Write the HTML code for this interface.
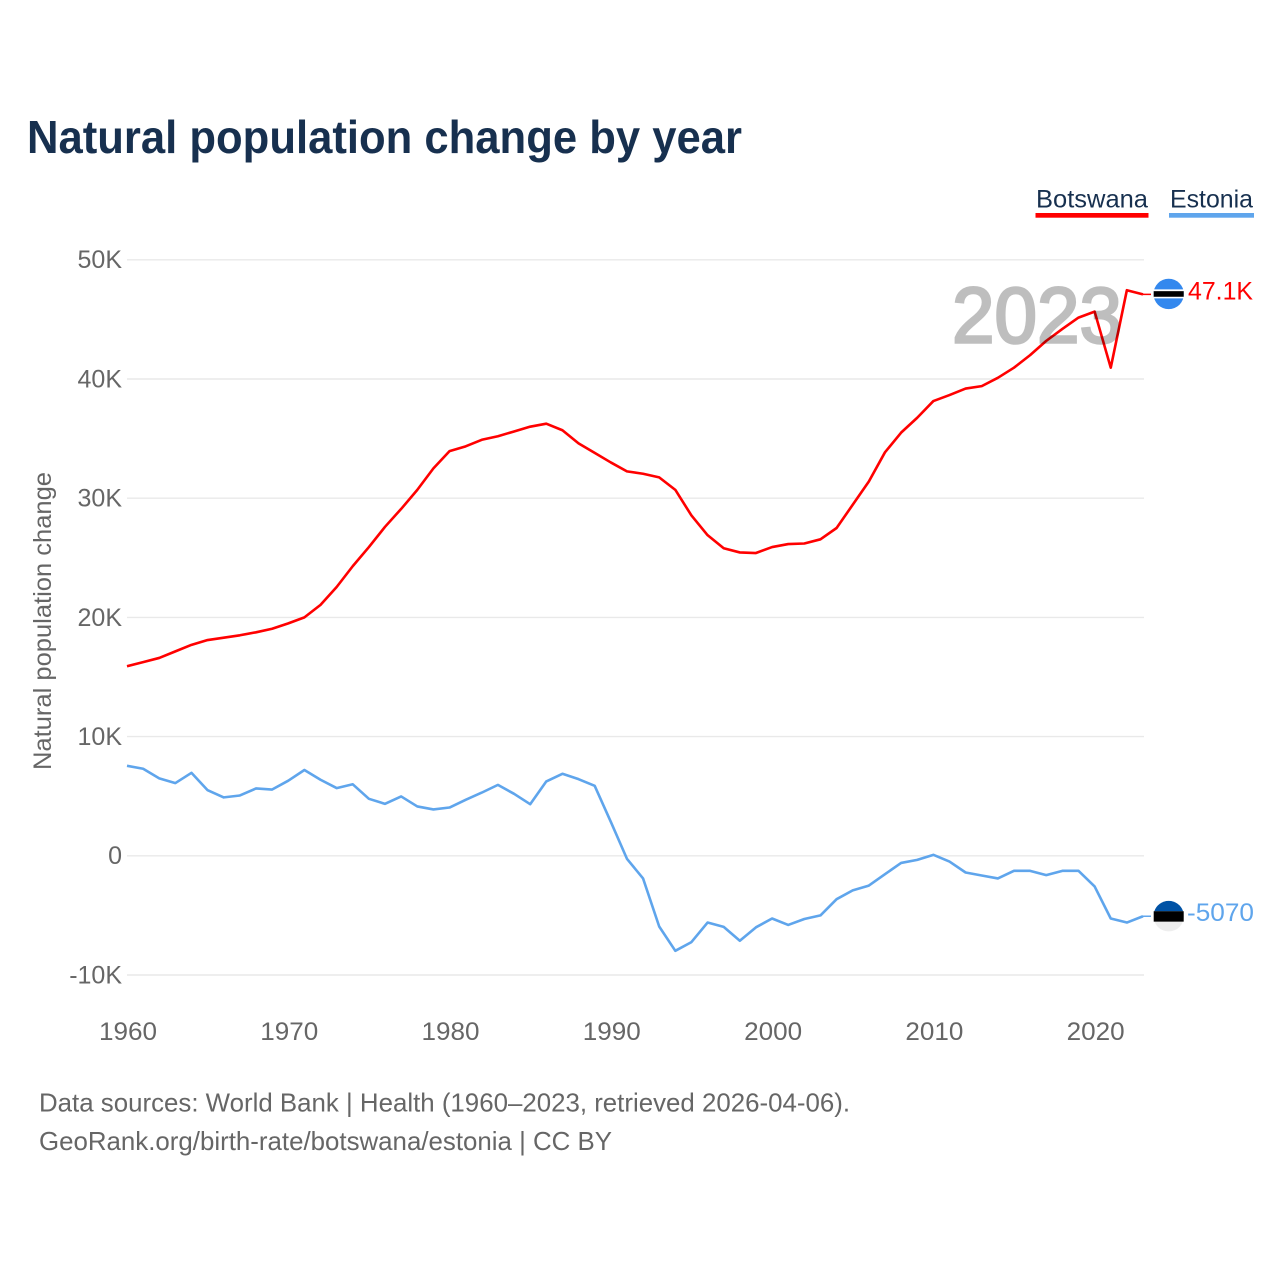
<!DOCTYPE html>
<html lang="en">
<head>
<meta charset="utf-8">
<title>Natural population change by year</title>
<style>
  html, body { margin: 0; padding: 0; background: #fff; }
  svg { display: block; font-family: "Liberation Sans", sans-serif; }
</style>
</head>
<body>
<svg id="chart" xmlns="http://www.w3.org/2000/svg" width="1280" height="1280" viewBox="0 0 1280 1280">
  <rect width="1280" height="1280" fill="#ffffff"/>
  <text x="27" y="153" font-size="46" font-weight="bold" fill="#17304f" textLength="715" lengthAdjust="spacingAndGlyphs">Natural population change by year</text>

  <g>
    <text x="1036" y="207.5" font-size="25" fill="#17304f" textLength="112" lengthAdjust="spacingAndGlyphs">Botswana</text>
    <rect x="1035.5" y="213" width="113" height="4.7" fill="#ff0000"/>
  </g>
  <g>
    <text x="1170" y="207.5" font-size="25" fill="#17304f" textLength="83" lengthAdjust="spacingAndGlyphs">Estonia</text>
    <rect x="1169" y="213" width="85" height="4.7" fill="#5fa5ec"/>
  </g>

  <text transform="translate(51 621) rotate(-90)" text-anchor="middle" font-size="25" fill="#666666" textLength="298" lengthAdjust="spacingAndGlyphs">Natural population change</text>

  <g id="grid"></g>
  <g id="yticks"></g>
  <g id="xticks"></g>
  <g id="series"></g>
  <g id="markers"></g>

  <text x="952" y="342.5" font-size="79" fill="#000000" stroke="#000000" stroke-width="2.6" opacity="0.25" textLength="170" lengthAdjust="spacingAndGlyphs">2023</text>

  <text x="39" y="1111.5" font-size="26" fill="#666666" textLength="811" lengthAdjust="spacingAndGlyphs">Data sources: World Bank | Health (1960–2023, retrieved 2026-04-06).</text>
  <text x="39" y="1150" font-size="26" fill="#666666" textLength="573" lengthAdjust="spacingAndGlyphs">GeoRank.org/birth-rate/botswana/estonia | CC BY</text>
</svg>

<script>
const startYear = 1960;
const botswanaValues = [
  15.9, 16.25, 16.6, 17.15, 17.7, 18.1, 18.3, 18.5, 18.75, 19.05,
  19.5, 20.0, 21.05, 22.55, 24.3, 25.9, 27.6, 29.1, 30.7, 32.5,
  33.95, 34.35, 34.9, 35.2, 35.6, 36.0, 36.25, 35.7, 34.6, 33.8,
  33.0, 32.25, 32.05, 31.75, 30.7, 28.55, 26.9, 25.8, 25.45, 25.4,
  25.9, 26.15, 26.2, 26.55, 27.5, 29.45, 31.4, 33.85, 35.5, 36.75,
  38.15, 38.65, 39.2, 39.4, 40.1, 40.95, 42.0, 43.2, 44.2, 45.15,
  45.65, 40.95, 47.45, 47.1
];
const estoniaValues = [
  7.55, 7.3, 6.5, 6.1, 6.96, 5.5, 4.9, 5.06, 5.65, 5.56,
  6.3, 7.2, 6.38, 5.68, 6.0, 4.78, 4.36, 4.98, 4.14, 3.89,
  4.05, 4.7, 5.3, 5.95, 5.2, 4.33, 6.24, 6.88, 6.43, 5.87,
  2.85, -0.25, -1.9, -5.93, -7.97, -7.24, -5.6, -5.96, -7.13, -6.0,
  -5.26, -5.8, -5.3, -5.0, -3.64, -2.9, -2.5, -1.54, -0.6, -0.34,
  0.08, -0.48, -1.4, -1.65, -1.9, -1.26, -1.26, -1.62, -1.26, -1.26,
  -2.57, -5.26, -5.6, -5.07
];
const yTickValues = [-10, 0, 10, 20, 30, 40, 50];
const yTickLabels = ["-10K", "0", "10K", "20K", "30K", "40K", "50K"];
const xTickYears = [1960, 1970, 1980, 1990, 2000, 2010, 2020];
const botswanaEndLabel = "47.1K";
const estoniaEndLabel = "-5070";

const NS = "http://www.w3.org/2000/svg";
function xScale(year) { return 127 + (year - 1960) * 16.127; }
function yScale(k) { return 855.8 - k * 11.92; }
function make(parent, tag, attrs) {
  const el = document.createElementNS(NS, tag);
  for (const key in attrs) el.setAttribute(key, attrs[key]);
  document.getElementById(parent).appendChild(el);
  return el;
}

yTickValues.forEach(function (v, i) {
  const line = make("grid", "line", { x1: 127, x2: 1144, y1: yScale(v), y2: yScale(v), stroke: "#e9e9e9", "stroke-width": 1.4 });
  
  
  const label = make("yticks", "text", { x: 122, y: yScale(v) + 8.4, "text-anchor": "end", "font-size": 25, fill: "#666666" });
  label.textContent = yTickLabels[i];
  
  
});

xTickYears.forEach(function (year) {
  const label = make("xticks", "text", { x: xScale(year) + 1, y: 1040, "text-anchor": "middle", "font-size": 25, fill: "#666666", textLength: 58, lengthAdjust: "spacingAndGlyphs" });
  label.textContent = String(year);
  
  
});

function linePoints(values) {
  return values.map(function (v, i) {
    return xScale(startYear + i).toFixed(2) + "," + yScale(v).toFixed(2);
  }).join(" ");
}

const estoniaLine = make("series", "polyline", { points: linePoints(estoniaValues), fill: "none", stroke: "#5fa5ec", "stroke-width": 2.6, "stroke-linejoin": "round" });



const botswanaLine = make("series", "polyline", { points: linePoints(botswanaValues), fill: "none", stroke: "#ff0000", "stroke-width": 2.6, "stroke-linejoin": "round" });



const lastYear = startYear + botswanaValues.length - 1;
const flagX = xScale(lastYear) + 25.7;

/* Botswana end marker */
const bY = yScale(botswanaValues[botswanaValues.length - 1]);
const bLead = make("markers", "line", { x1: xScale(lastYear), x2: xScale(lastYear) + 8, y1: bY, y2: bY, stroke: "#ff0000", "stroke-width": 1.5 });


const bFlag = make("markers", "circle", { cx: flagX, cy: bY - 0.4, r: 15.2, fill: "#3388ee" });


const bWhite = make("markers", "rect", { x: flagX - 15, y: bY - 5, width: 30, height: 9, fill: "#ffffff" });


const bBlack = make("markers", "rect", { x: flagX - 15, y: bY - 3.2, width: 30, height: 5.6, fill: "#000000" });


const bLabel = make("markers", "text", { x: 1188, y: bY + 5.2, "font-size": 25, fill: "#ff0000", textLength: 65, lengthAdjust: "spacingAndGlyphs" });
bLabel.textContent = botswanaEndLabel;



/* Estonia end marker */
const eY = yScale(estoniaValues[estoniaValues.length - 1]);
const eLead = make("markers", "line", { x1: xScale(lastYear), x2: xScale(lastYear) + 8, y1: eY, y2: eY, stroke: "#5fa5ec", "stroke-width": 1.5 });


const eFlag = make("markers", "circle", { cx: flagX, cy: eY, r: 15.2, fill: "#eeeeee" });


const eBlue = make("markers", "path", { d: "M" + (flagX - 14.4) + " " + (eY - 5) + "A15.2 15.2 0 0 1 " + (flagX + 14.4) + " " + (eY - 5) + "Z", fill: "#0052a5" });


const eBlack = make("markers", "rect", { x: flagX - 15, y: eY - 5, width: 30, height: 10.4, fill: "#000000" });


const eLabel = make("markers", "text", { x: 1187, y: eY + 5, "font-size": 25, fill: "#5fa5ec", textLength: 67, lengthAdjust: "spacingAndGlyphs" });
eLabel.textContent = estoniaEndLabel;


</script>
</body>
</html>
